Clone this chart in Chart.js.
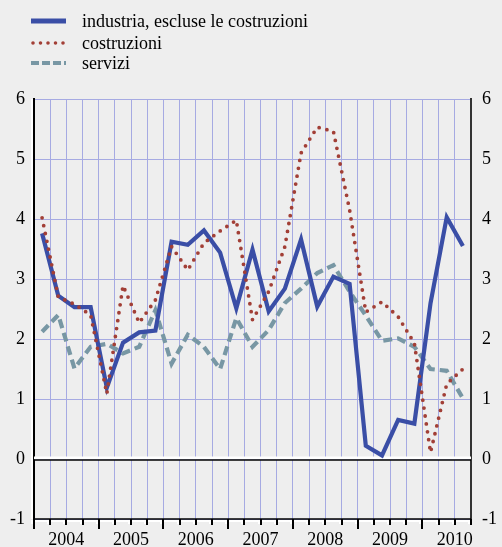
<!DOCTYPE html>
<html>
<head>
<meta charset="utf-8">
<script src="https://cdn.jsdelivr.net/npm/chart.js@4"></script>
<style>
  html, body { margin: 0; padding: 0; background: #eeeeee; }
  #wrap { width: 502px; height: 547px; }
</style>
</head>
<body>
<div id="wrap"><canvas id="myChart" width="502" height="547"></canvas></div>
<script>
// quarterly series, 2004 Q1 - 2010 Q3
var years = ['2004', '2005', '2006', '2007', '2008', '2009', '2010'];
var quarters = [];
years.forEach(function(y) {
  ['T1', 'T2', 'T3', 'T4'].forEach(function(q) { quarters.push(y + ' ' + q); });
});
quarters = quarters.slice(0, 27);

var yTicks = [-1, 0, 1, 2, 3, 4, 5, 6];

var industria = [3.76, 2.72, 2.53, 2.53, 1.19, 1.94, 2.11, 2.14, 3.62, 3.57, 3.81, 3.44, 2.51, 3.49,
                 2.46, 2.84, 3.66, 2.54, 3.04, 2.92, 0.22, 0.06, 0.65, 0.59, 2.6, 4.03, 3.55];
var costruzioni = [4.02, 2.7, 2.58, 2.4, 1.09, 2.89, 2.27, 2.65, 3.54, 3.15, 3.6, 3.8, 3.98, 2.32,
                   2.79, 3.54, 5.1, 5.53, 5.46, 4.15, 2.45, 2.62, 2.37, 1.93, 0.11, 1.25, 1.5];
var servizi = [2.12, 2.4, 1.51, 1.87, 1.92, 1.76, 1.87, 2.48, 1.59, 2.07, 1.87, 1.5, 2.35, 1.87,
               2.15, 2.6, 2.84, 3.1, 3.23, 2.79, 2.39, 1.97, 2.01, 1.87, 1.5, 1.47, 1.01];

var serif = '"Liberation Serif", "Times New Roman", serif';

// background, zero line, bottom axis ticks, year labels and legend
var decorations = {
  id: 'decorations',
  beforeDraw: function(chart) {
    var ctx = chart.ctx;
    ctx.save();
    ctx.fillStyle = '#eeeeee';
    ctx.fillRect(0, 0, chart.width, chart.height);
    ctx.restore();
  },
  beforeDatasetsDraw: function(chart) {
    var ctx = chart.ctx, a = chart.chartArea;
    var y0 = chart.scales.y.getPixelForValue(0);
    ctx.save();
    ctx.strokeStyle = '#ffffff';
    ctx.lineWidth = 3;
    ctx.beginPath(); ctx.moveTo(a.left, y0 - 1); ctx.lineTo(a.right, y0 - 1); ctx.stroke();
    ctx.strokeStyle = '#000000';
    ctx.lineWidth = 1.5;
    ctx.beginPath(); ctx.moveTo(a.left, y0 + 1); ctx.lineTo(a.right, y0 + 1); ctx.stroke();
    ctx.restore();
  },
  afterDraw: function(chart) {
    var ctx = chart.ctx, a = chart.chartArea, x = chart.scales.x;
    ctx.save();
    // white edge under the bottom axis
    ctx.strokeStyle = '#ffffff';
    ctx.lineWidth = 2;
    ctx.beginPath(); ctx.moveTo(a.left, a.bottom + 2); ctx.lineTo(a.right, a.bottom + 2); ctx.stroke();
    ctx.beginPath(); ctx.moveTo(a.left - 2, a.top); ctx.lineTo(a.left - 2, a.bottom); ctx.stroke();
    ctx.strokeStyle = '#000000';
    ctx.lineWidth = 1.5;
    ctx.beginPath(); ctx.moveTo(a.left, a.bottom); ctx.lineTo(a.right, a.bottom); ctx.stroke();
    for (var k = 0; k <= quarters.length; k++) {
      var px = Math.round(x.getPixelForValue(k - 0.5));
      var len = (k % 4 === 0) ? 10 : 6;
      ctx.strokeStyle = '#ffffff';
      ctx.lineWidth = 2;
      ctx.beginPath(); ctx.moveTo(px - 2, a.bottom + 1); ctx.lineTo(px - 2, a.bottom + 5); ctx.stroke();
      ctx.strokeStyle = '#000000';
      ctx.lineWidth = 2;
      ctx.beginPath(); ctx.moveTo(px, a.bottom); ctx.lineTo(px, a.bottom + len); ctx.stroke();
    }
    // year labels, centred on each four-quarter block
    ctx.fillStyle = '#000000';
    ctx.font = '18px ' + serif;
    ctx.textAlign = 'center';
    ctx.textBaseline = 'alphabetic';
    years.forEach(function(y, j) {
      ctx.fillText(y, x.getPixelForValue(j * 4 + 1.5), 545);
    });
    // legend
    ctx.textAlign = 'left';
    ctx.textBaseline = 'middle';
    var rows = [21, 43, 63];
    chart.data.datasets.forEach(function(ds, i) {
      var ry = rows[i];
      ctx.save();
      ctx.strokeStyle = ds.borderColor;
      ctx.lineWidth = ds.legendWidth;
      ctx.lineCap = ds.borderCapStyle || 'butt';
      ctx.setLineDash(ds.legendDash || []);
      ctx.beginPath(); ctx.moveTo(ds.legendStart, ry); ctx.lineTo(66, ry); ctx.stroke();
      ctx.restore();
      ctx.fillStyle = '#000000';
      ctx.fillText(ds.label, 82, ry + 1);
    });
    ctx.restore();
  }
};

var data = {
  labels: quarters,
  datasets: [{
    label: 'industria, escluse le costruzioni',
    data: industria,
    borderColor: '#3a4ea6',
    borderWidth: 4.2,
    borderJoinStyle: 'miter',
    legendWidth: 5,
    legendStart: 31,
    order: 1
  }, {
    label: 'costruzioni',
    data: costruzioni,
    borderColor: '#a23f36',
    borderWidth: 3.8,
    borderDash: [0, 8],
    borderCapStyle: 'round',
    legendWidth: 3.6,
    legendDash: [0, 7.5],
    legendStart: 33,
    order: 0
  }, {
    label: 'servizi',
    data: servizi,
    borderColor: '#7897a4',
    borderWidth: 4.2,
    borderDash: [9, 5],
    legendWidth: 4,
    legendDash: [8, 3],
    legendStart: 31,
    order: 2
  }]
};

var yFont = { family: serif, size: 18 };

var config = {
  type: 'line',
  data: data,
  plugins: [decorations],
  options: {
    responsive: false,
    animation: false,
    devicePixelRatio: 1,
    layout: { padding: { top: 99, bottom: 0, left: 0, right: 0 } },
    elements: {
      point: { radius: 0, hoverRadius: 0 },
      line: { tension: 0, fill: false }
    },
    plugins: {
      legend: { display: false },
      tooltip: { enabled: false }
    },
    scales: {
      x: {
        type: 'category',
        offset: true,
        grid: { offset: true, color: '#a6aae2', lineWidth: 1, drawTicks: false },
        border: { display: false },
        ticks: { display: false },
        afterFit: function(s) { s.height = 28; }
      },
      y: {
        position: 'left',
        min: -1, max: 6,
        afterBuildTicks: function(s) { s.ticks = yTicks.map(function(v) { return { value: v }; }); },
        grid: { color: '#a6aae2', lineWidth: 1, drawTicks: false },
        border: { display: true, color: '#000000', width: 2 },
        ticks: { color: '#000000', font: yFont, padding: 9 },
        afterFit: function(s) { s.width = 34; }
      },
      y2: {
        position: 'right',
        min: -1, max: 6,
        afterBuildTicks: function(s) { s.ticks = yTicks.map(function(v) { return { value: v }; }); },
        grid: { display: false, drawTicks: false },
        border: { display: true, color: '#333333', width: 2 },
        ticks: { color: '#000000', font: yFont, padding: 11 },
        afterFit: function(s) { s.width = 31; }
      }
    }
  }
};

var ctx = document.getElementById('myChart').getContext('2d');
var myChart = new Chart(ctx, config);
</script>
</body>
</html>
